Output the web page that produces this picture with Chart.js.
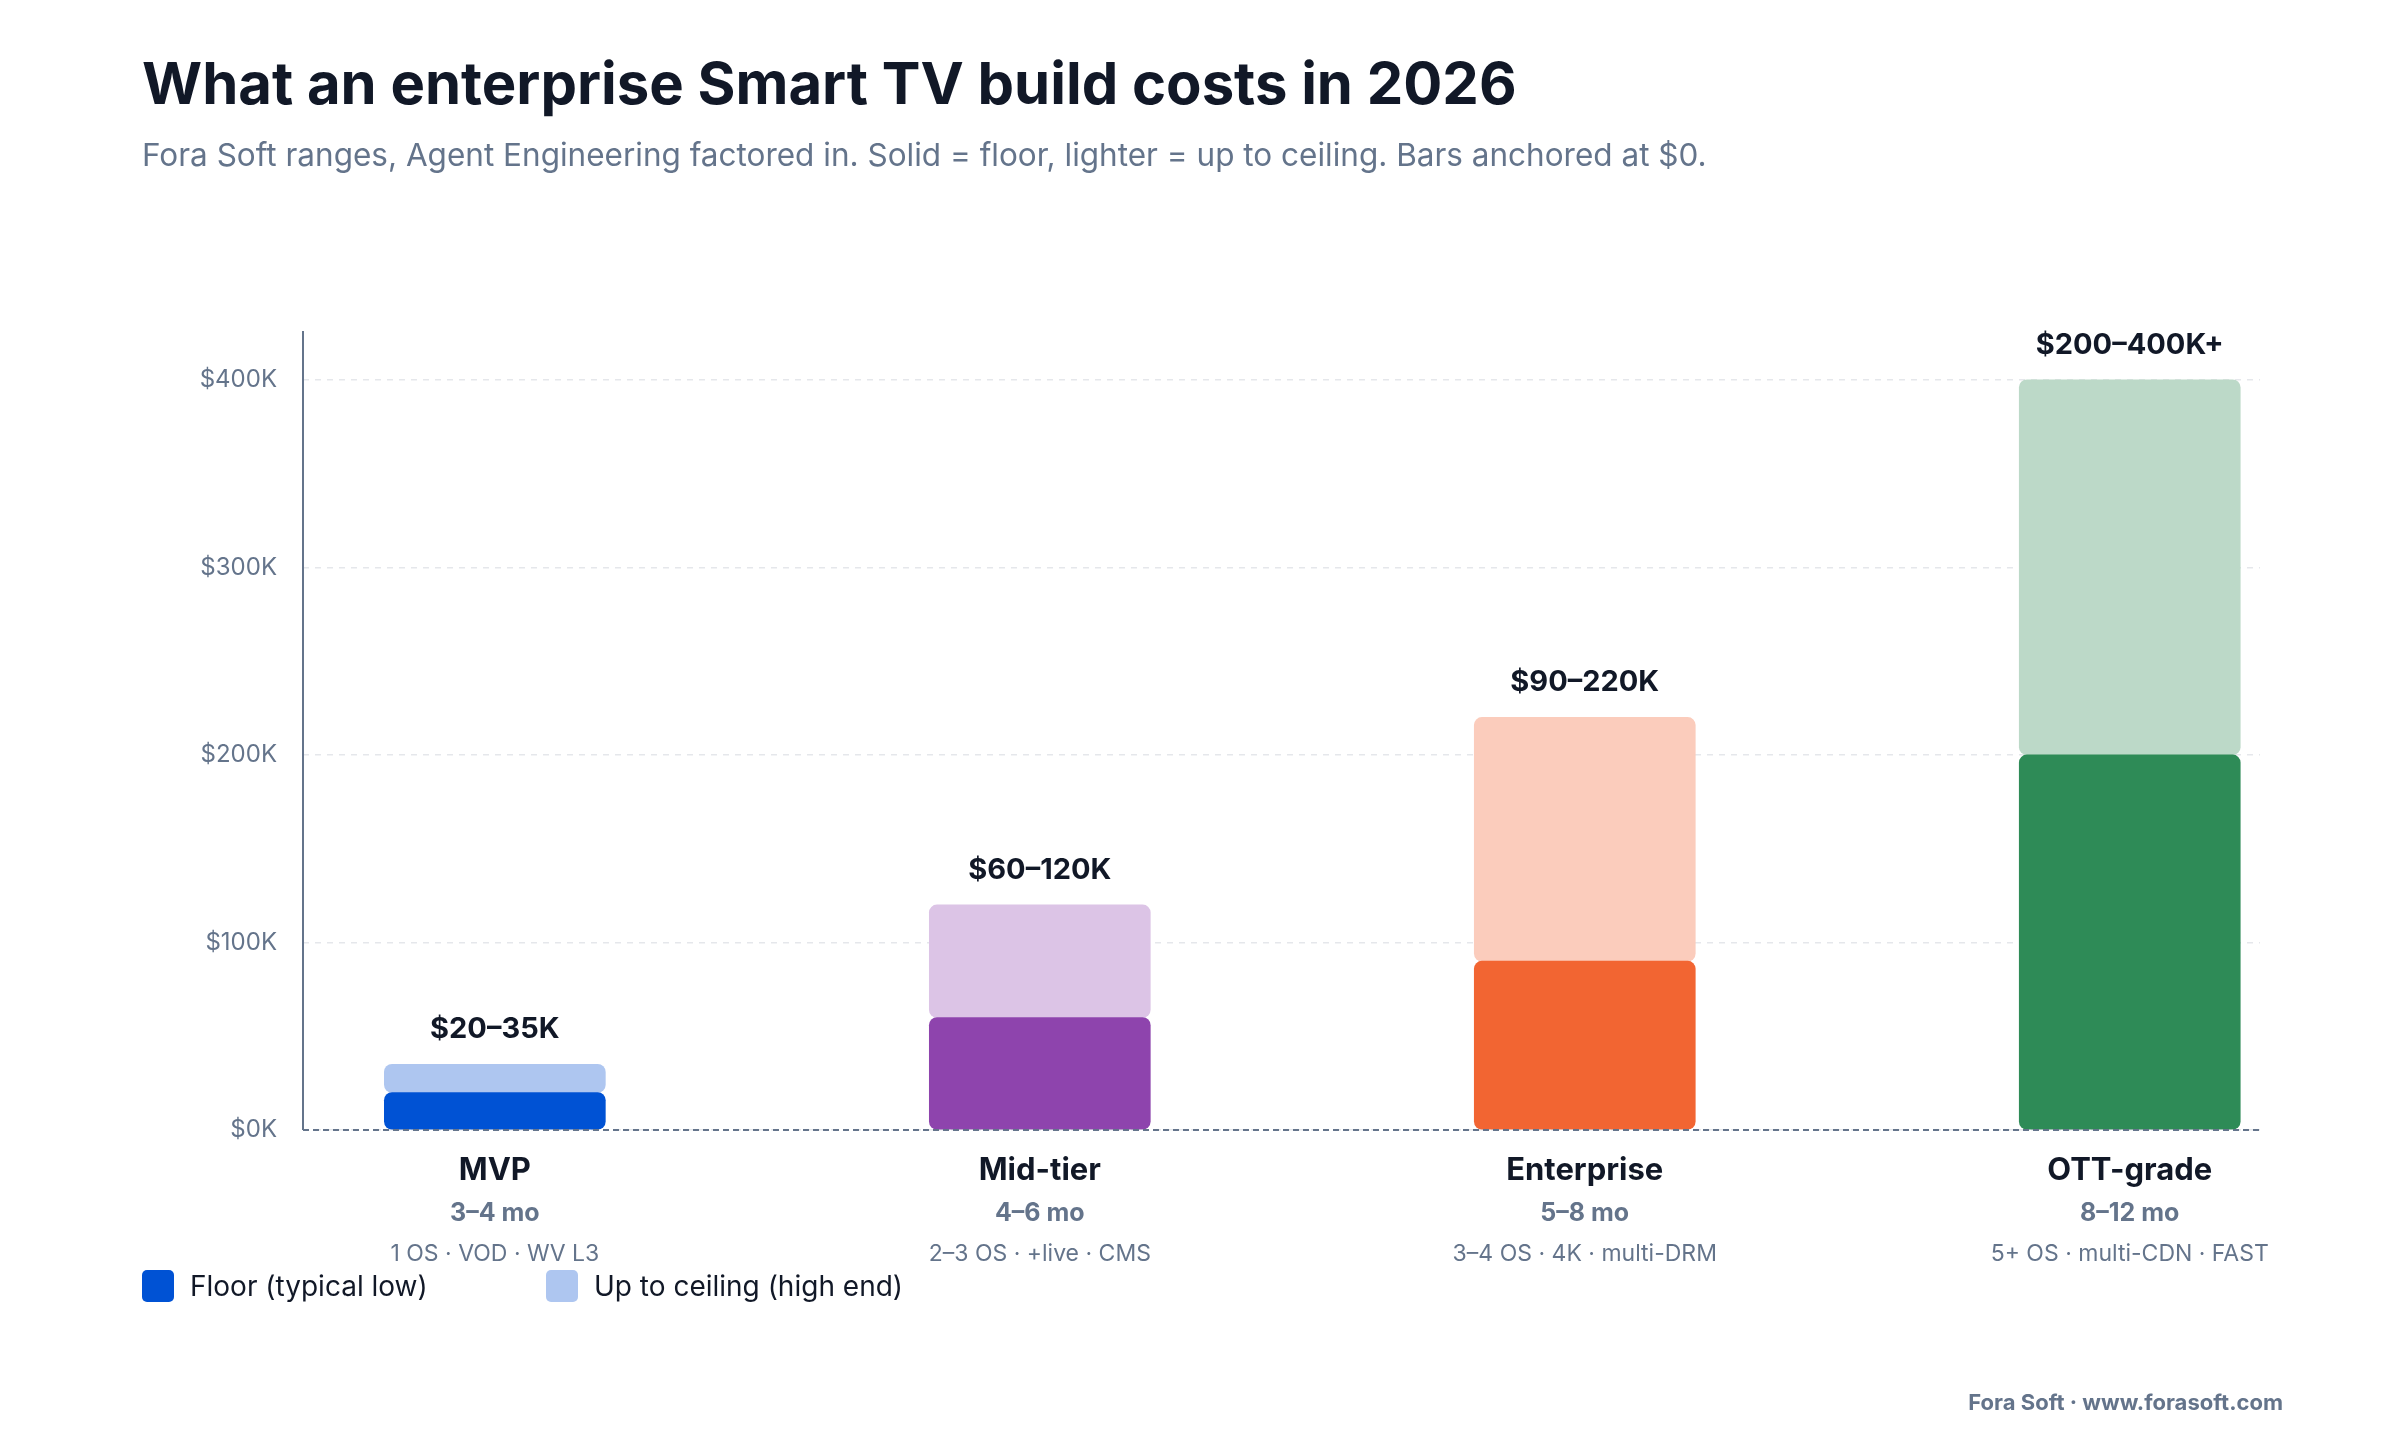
<!DOCTYPE html>
<html><head><meta charset="utf-8">
<script src="https://cdn.jsdelivr.net/npm/chart.js@4"></script>
<style>html,body{margin:0;padding:0;background:#fff}canvas{display:block}</style>
</head><body>
<div style="width:2400px;height:1440px"><canvas id="c"></canvas></div>
<script>
const categories = ["MVP","Mid-tier","Enterprise","OTT-grade"];
const durations = ["3–4 mo","4–6 mo","5–8 mo","8–12 mo"];
const scopes = ["1 OS · VOD · WV L3","2–3 OS · +live · CMS","3–4 OS · 4K · multi-DRM","5+ OS · multi-CDN · FAST"];
const rangeLabels = ["$20–35K","$60–120K","$90–220K","$200–400K+"];
const floorValues = [20,60,90,200];
const ceilingValues = [35,120,220,400];
const yTicks = [0,100,200,300,400];
const solidColors = ["#0052D4","#8E44AD","#F26532","#2E8B57"];
const lightColors = ["#AEC6F0","#DCC4E6","#FBCCBC","#BCD9C8"];

const F = "Inter, 'Noto Sans', sans-serif";
const textPlugin = {
  id:'txt',
  afterDraw(chart){
    const ctx = chart.ctx, x = chart.scales.x, y = chart.scales.y, a = chart.chartArea;
    ctx.save();
    ctx.textBaseline='alphabetic';
    ctx.fillStyle='#111827'; ctx.textAlign='left';
    ctx.font=`bold 58px ${F}`; ctx.fillText("What an enterprise Smart TV build costs in 2026",142,104);
    ctx.fillStyle='#64748B'; ctx.font=`31.5px ${F}`;
    ctx.fillText("Fora Soft ranges, Agent Engineering factored in. Solid = floor, lighter = up to ceiling. Bars anchored at $0.",142,166);
    ctx.textAlign='center';
    categories.forEach((c,i)=>{
      const cx = x.getPixelForValue(i);
      ctx.fillStyle='#111827'; ctx.font=`bold 29px ${F}`;
      ctx.fillText(rangeLabels[i], cx, y.getPixelForValue(ceilingValues[i]) - 26);
      ctx.font=`bold 31px ${F}`; ctx.fillText(c, cx, 1180);
      ctx.fillStyle='#64748B'; ctx.font=`bold 25px ${F}`; ctx.fillText(durations[i], cx, 1221);
      ctx.font=`23px ${F}`; ctx.fillText(scopes[i], cx, 1261);
    });
    const ds = chart.data.datasets;
    [[142,solidColors[0],ds[0].label],[546,lightColors[0],ds[1].label]].forEach(([lx,col,lab])=>{
      ctx.fillStyle=col; ctx.beginPath(); ctx.roundRect(lx,1270,32,32,5); ctx.fill();
      ctx.fillStyle='#111827'; ctx.textAlign='left'; ctx.font=`28px ${F}`;
      ctx.fillText(lab, lx+48, 1296);
    });
    ctx.fillStyle='#64748B'; ctx.textAlign='right'; ctx.font=`bold 22px ${F}`;
    ctx.fillText("Fora Soft · www.forasoft.com",2283,1410);
    ctx.strokeStyle='#64748B'; ctx.lineWidth=2;
    ctx.beginPath(); ctx.moveTo(a.left,a.top); ctx.lineTo(a.left,a.bottom); ctx.stroke();
    ctx.setLineDash([6,4]);
    const zy=y.getPixelForValue(0);
    ctx.beginPath(); ctx.moveTo(a.left,zy); ctx.lineTo(a.right,zy); ctx.stroke();
    ctx.restore();
  }
};

new Chart(document.getElementById('c'),{
  type:'bar',
  data:{datasets:[
    {label:"Floor (typical low)", data:floorValues.map((v,i)=>({x:i,y:v})), backgroundColor:solidColors, stack:'s'},
    {label:"Up to ceiling (high end)", data:ceilingValues.map((v,i)=>({x:i,y:v-floorValues[i]})), backgroundColor:lightColors, stack:'s'}
  ]},
  options:{
    responsive:true, maintainAspectRatio:false, animation:false,
    layout:{padding:{left:0,right:140,top:331,bottom:310}},
    datasets:{bar:{barThickness:221,borderRadius:{topLeft:8,topRight:8,bottomLeft:8,bottomRight:8},borderSkipped:false}},
    plugins:{legend:{display:false},tooltip:{enabled:false}},
    scales:{
      x:{type:'linear',offset:false,min:-0.352,max:3.239,display:false,stacked:true},
      y:{stacked:true,min:0,max:426,afterFit:s=>{s.width=303;},
        afterBuildTicks:s=>{s.ticks=yTicks.map(v=>({value:v}));},
        ticks:{callback:v=>`$${v}K`,color:'#64748B',font:{family:F,size:24},padding:26},
        grid:{color:'#E5E7EB',lineWidth:1.5,drawTicks:false},
        border:{display:false,dash:[6,6]}
      }
    }
  },
  plugins:[textPlugin]
});
</script></body></html>
